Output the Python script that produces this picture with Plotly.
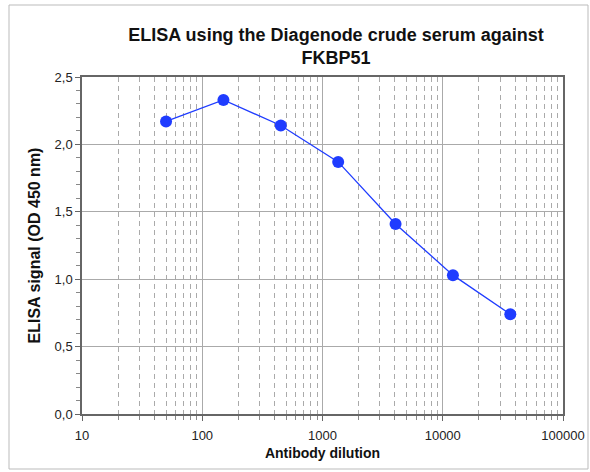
import plotly.graph_objects as go

dilution = [50, 150, 450, 1350, 4050, 12150, 36450]
signal = [2.17, 2.33, 2.14, 1.87, 1.41, 1.03, 0.74]

title_text = "ELISA using the Diagenode crude serum against<br>FKBP51"
x_title = "Antibody dilution"
y_title = "ELISA signal (OD 450 nm)"
y_ticks = [0, 0.5, 1.0, 1.5, 2.0, 2.5]
x_ticks = [10, 100, 1000, 10000, 100000]

FONT = "Liberation Sans, Arial, sans-serif"
L, R, T, B = 82, 27, 77, 58
W, H = 590, 472
PW, PH = W - L - R, H - T - B

fig = go.Figure()
fig.add_trace(go.Scatter(
    x=dilution, y=signal, mode="lines+markers",
    line=dict(color="#1f3cff", width=1.3),
    marker=dict(color="#1f3cff", size=12),
    showlegend=False,
))

fig.update_layout(
    width=W, height=H,
    margin=dict(l=L, r=R, t=T, b=B, autoexpand=False),
    paper_bgcolor="white", plot_bgcolor="white",
    separators=",.",
    font=dict(family=FONT, size=13, color="#222"),
    title=dict(text="<b>" + title_text + "</b>", x=336 / W, xanchor="center",
               y=1 - 41 / H, yanchor="middle",
               font=dict(family=FONT, size=18, color="#111")),
    shapes=[dict(type="rect", xref="paper", yref="paper",
                 x0=(9 - L) / PW, x1=(588 - L) / PW,
                 y0=-(469 - (H - B)) / PH, y1=1 + (T - 5) / PH,
                 line=dict(color="#bbbbbb", width=1), layer="below")],
)

fig.update_xaxes(
    type="log", range=[1, 5], automargin=False,
    tickvals=x_ticks, ticktext=[str(v) for v in x_ticks],
    ticks="outside", ticklen=5, tickcolor="#666", ticklabelstandoff=4,
    showline=True, linecolor="#666", linewidth=1.5, mirror=True,
    showgrid=True, gridcolor="#aaa", gridwidth=1,
    zeroline=False,
    minor=dict(dtick="D1", ticks="outside", ticklen=4, tickcolor="#888",
               showgrid=True, gridcolor="#aaa", griddash="5px,4px", gridwidth=1),
    title=dict(text="<b>" + x_title + "</b>", font=dict(size=14, color="#111"), standoff=6),
    tickfont=dict(size=13, color="#222"),
)
fig.update_yaxes(
    range=[0, 2.5], tickvals=y_ticks, tickformat=".1f", automargin=False,
    ticks="outside", ticklen=5, tickcolor="#666",
    showline=True, linecolor="#666", linewidth=1.5, mirror=True,
    showgrid=True, gridcolor="#aaa", gridwidth=1,
    zeroline=False,
    minor=dict(dtick=0.1, ticks="outside", ticklen=4, tickcolor="#888", showgrid=False),
    title=dict(text="<b>" + y_title + "</b>", font=dict(size=16, color="#111"), standoff=10),
    tickfont=dict(size=13, color="#222"),
)

fig.write_html("out.html", config={"displayModeBar": False},
               post_script="document.body.style.margin='0';")
